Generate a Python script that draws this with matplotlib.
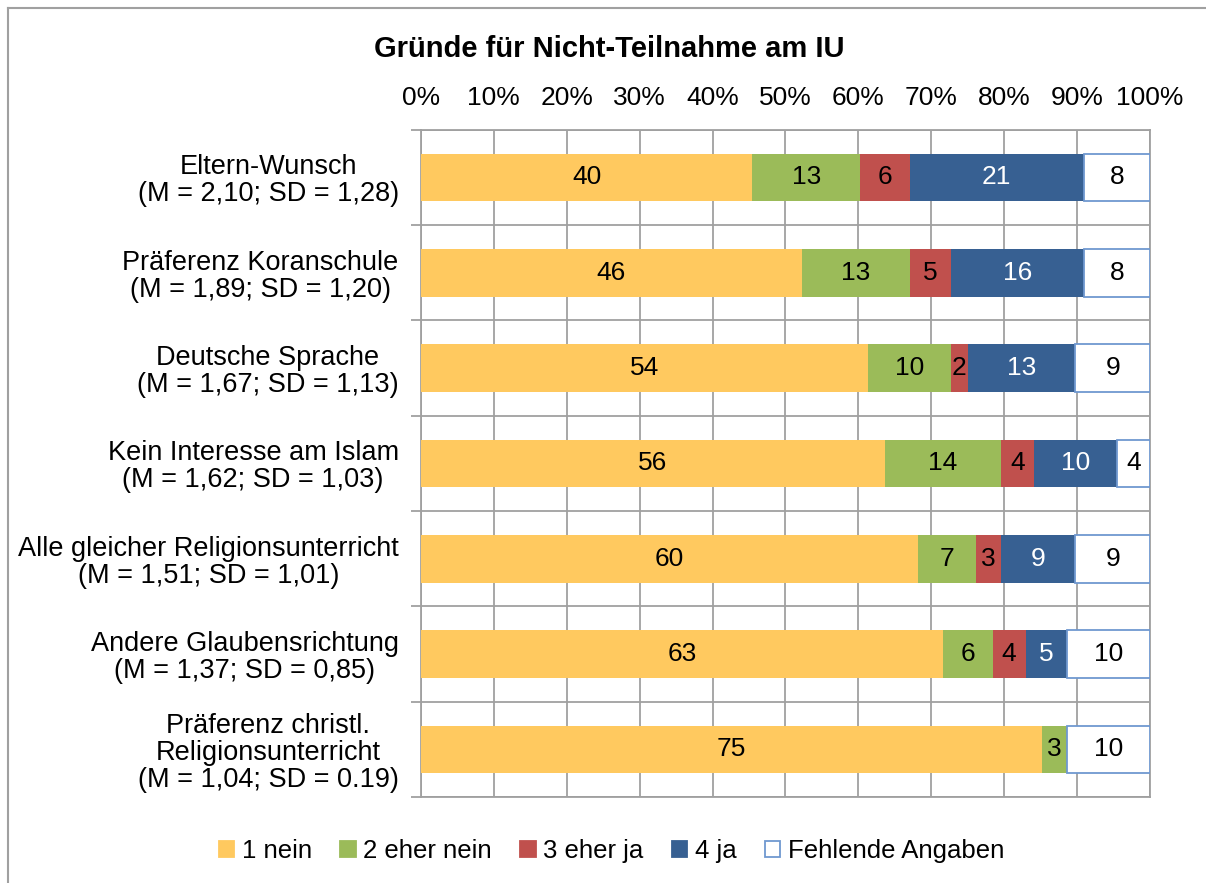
import numpy as np
import matplotlib.pyplot as plt
from matplotlib.lines import Line2D

plt.rcParams['font.family'] = ['Liberation Sans', 'DejaVu Sans']

categories = ['Eltern-Wunsch\n(M = 2,10; SD = 1,28)',
              'Präferenz Koranschule\n(M = 1,89; SD = 1,20)',
              'Deutsche Sprache\n(M = 1,67; SD = 1,13)',
              'Kein Interesse am Islam\n(M = 1,62; SD = 1,03)',
              'Alle gleicher Religionsunterricht\n(M = 1,51; SD = 1,01)',
              'Andere Glaubensrichtung\n(M = 1,37; SD = 0,85)',
              'Präferenz christl.\nReligionsunterricht\n(M = 1,04; SD = 0.19)']

# counts per answer category
nein = [40, 46, 54, 56, 60, 63, 75]
eher_nein = [13, 13, 10, 14, 7, 6, 3]
eher_ja = [6, 5, 2, 4, 3, 4, 0]
ja = [21, 16, 13, 10, 9, 5, 0]
fehlend = [8, 8, 9, 4, 9, 10, 10]

series = ['1 nein', '2 eher nein', '3 eher ja', '4 ja', 'Fehlende Angaben']
xticklabels = ['0%', '10%', '20%', '30%', '40%', '50%', '60%', '70%', '80%', '90%', '100%']

colors = ['#FFC95F', '#9BBB59', '#C0504D', '#376092', 'white']
edges = ['none', 'none', 'none', 'none', '#6F98D0']
txtcol = ['black', 'black', 'black', 'white', 'black']

data = np.array([nein, eher_nein, eher_ja, ja, fehlend], dtype=float)
totals = data.sum(axis=0)
shares = data / totals * 100

fig = plt.figure(figsize=(12.06, 8.83), dpi=100)
ax = fig.add_axes([0.349, 0.0974, 0.6046, 0.7556])

y = np.arange(len(categories))
left = np.zeros(len(categories))
for i in range(len(series)):
    bars = ax.barh(y, shares[i], left=left, height=0.5, color=colors[i],
                   edgecolor=edges[i], linewidth=1.3, label=series[i], zorder=3)
    labels = ['' if v == 0 else '%d' % v for v in data[i]]
    ax.bar_label(bars, labels=labels, label_type='center', fontsize=19,
                 color=txtcol[i])
    left += shares[i]

ax.set_xlim(0, 100)
ax.set_ylim(len(categories) - 0.5, -0.5)
ax.set_xticks(np.arange(0, 101, 10))
ax.set_xticklabels(xticklabels)
ax.xaxis.tick_top()
ax.tick_params(axis='x', length=0, pad=14, labelsize=19)
ax.set_yticks(y)
ax.set_yticklabels(categories)
ax.tick_params(axis='y', which='major', length=0, pad=16, labelsize=19.5)
for lab in ax.get_yticklabels():
    lab.set_multialignment('center')
    lab.set_linespacing(1.05)
ax.set_yticks(np.arange(len(categories) + 1) - 0.5, minor=True)
ax.tick_params(axis='y', which='minor', length=7, width=1.3, color='#A0A0A0')

ax.grid(axis='x', color='#A0A0A0', linewidth=1.3, zorder=0)
ax.grid(axis='y', which='minor', color='#A0A0A0', linewidth=1.3, zorder=0)
for s in ax.spines.values():
    s.set_color('#A0A0A0')
    s.set_linewidth(1.3)

fig.text(0.505, 0.945, 'Gründe für Nicht-Teilnahme am IU', ha='center', va='center',
         fontsize=21, fontweight='bold')

handles = [plt.Rectangle((0, 0), 1, 1, facecolor=colors[i],
                         edgecolor=edges[i] if edges[i] != 'none' else colors[i],
                         linewidth=1.3) for i in range(len(series))]
fig.legend(handles, series, loc='center', bbox_to_anchor=(0.507, 0.036), ncol=5,
           frameon=False, fontsize=18.5, handlelength=0.6, handleheight=0.6,
           handletextpad=0.3, columnspacing=1.1)

# outer chart frame (left and top visible)
fig.add_artist(Line2D([0.007, 0.007], [0.0, 0.991], color='#A0A0A0', lw=1.5))
fig.add_artist(Line2D([0.007, 1.0], [0.991, 0.991], color='#A0A0A0', lw=1.5))

fig.savefig('out.png', dpi=100)
